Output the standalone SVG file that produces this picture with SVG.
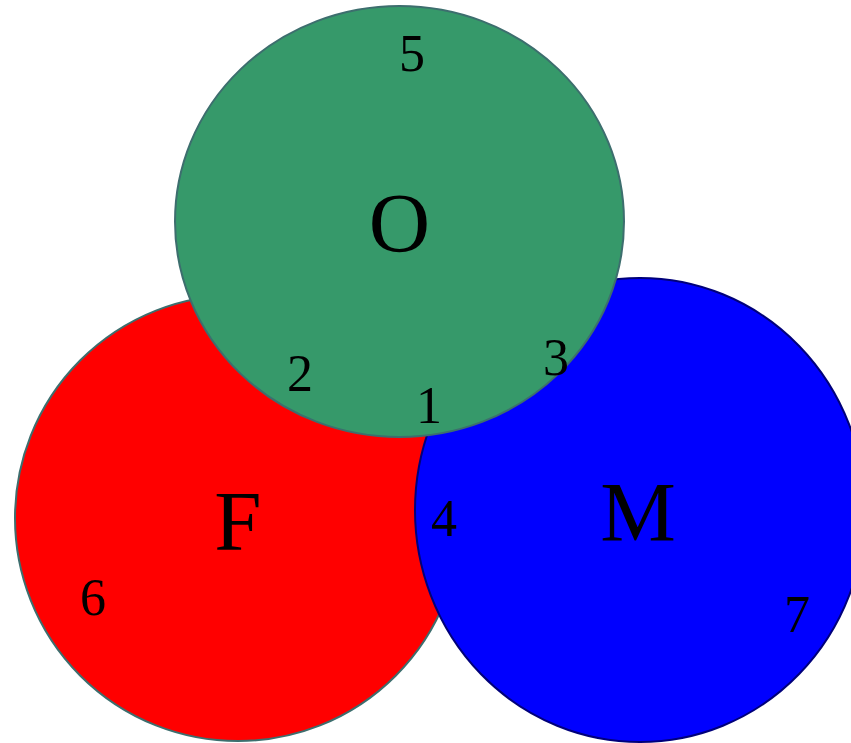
<svg xmlns="http://www.w3.org/2000/svg" width="851" height="743" viewBox="0 0 851 743">
  <style>
    .set { stroke-width: 2; }
    .label { font-family: "Liberation Serif", "Times New Roman", serif; fill: #000; text-anchor: middle; }
    .big { font-size: 85px; }
    .num { font-size: 52px; }
  </style>
  <rect width="851" height="743" fill="#fff"/>
  <g id="set-F">
    <ellipse class="set" cx="238" cy="518" rx="223" ry="223" fill="#ff0000" stroke="#3d6e6e"/>
    <text class="label big" x="238" y="550">F</text>
  </g>
  <g id="set-M">
    <ellipse class="set" cx="640" cy="510" rx="225" ry="232" fill="#0000ff" stroke="#00007a"/>
    <text class="label big" x="638" y="541">M</text>
  </g>
  <g id="set-O">
    <ellipse class="set" cx="399.5" cy="221.5" rx="224.5" ry="215.5" fill="#36996a" stroke="#3d6e6e"/>
    <text class="label big" x="399.5" y="252">O</text>
  </g>
  <g id="regions">
    <text class="label num" x="429" y="423">1</text>
    <text class="label num" x="300" y="391">2</text>
    <text class="label num" x="556" y="375">3</text>
    <text class="label num" x="444" y="536">4</text>
    <text class="label num" x="412" y="71">5</text>
    <text class="label num" x="93" y="615">6</text>
    <text class="label num" x="797" y="632">7</text>
  </g>
  <g id="connectors"/>
</svg>
